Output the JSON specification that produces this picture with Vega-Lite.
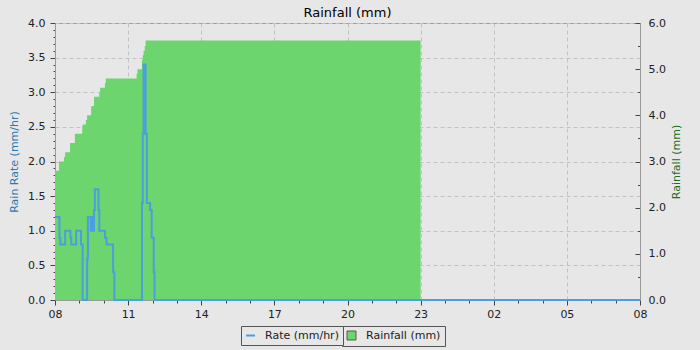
{
  "$schema": "https://vega.github.io/schema/vega-lite/v6.json",
  "autosize": {"type": "none"},
  "width": 585,
  "height": 277,
  "padding": {"left": 55, "top": 23, "right": 60, "bottom": 50},
  "background": "#e7e7e7",
  "title": {"text": "Rainfall (mm)", "fontSize": 13, "font": "DejaVu Sans", "fontWeight": "normal", "color": "#000000", "offset": -3},
  "config": {
    "view": {"stroke": "#999999", "fill": "#e7e7e7"},
    "axis": {"labelFont": "DejaVu Sans", "labelFontSize": 11, "labelColor": "#222222", "titleFont": "DejaVu Sans", "titleFontSize": 11, "titleFontWeight": "normal", "domainColor": "#999999", "tickColor": "#444444", "gridColor": "#c2c2c2", "gridDash": [4, 3], "gridWidth": 1}
  },
  "datasets": {
    "rain": [
      {"time": "2024-05-01T08:00:00", "mm": 2.8},
      {"time": "2024-05-01T08:10:00", "mm": 3.0},
      {"time": "2024-05-01T08:22:00", "mm": 3.1},
      {"time": "2024-05-01T08:25:00", "mm": 3.2},
      {"time": "2024-05-01T08:37:00", "mm": 3.4},
      {"time": "2024-05-01T08:49:00", "mm": 3.6},
      {"time": "2024-05-01T09:07:00", "mm": 3.78},
      {"time": "2024-05-01T09:09:00", "mm": 3.8},
      {"time": "2024-05-01T09:16:00", "mm": 3.9},
      {"time": "2024-05-01T09:19:00", "mm": 4.0},
      {"time": "2024-05-01T09:29:00", "mm": 4.19},
      {"time": "2024-05-01T09:31:00", "mm": 4.2},
      {"time": "2024-05-01T09:36:00", "mm": 4.4},
      {"time": "2024-05-01T09:49:00", "mm": 4.5},
      {"time": "2024-05-01T09:51:00", "mm": 4.6},
      {"time": "2024-05-01T10:03:00", "mm": 4.7},
      {"time": "2024-05-01T10:05:00", "mm": 4.8},
      {"time": "2024-05-01T11:21:00", "mm": 4.9},
      {"time": "2024-05-01T11:23:00", "mm": 5.0},
      {"time": "2024-05-01T11:34:00", "mm": 5.2},
      {"time": "2024-05-01T11:36:00", "mm": 5.3},
      {"time": "2024-05-01T11:38:00", "mm": 5.4},
      {"time": "2024-05-01T11:41:00", "mm": 5.5},
      {"time": "2024-05-01T11:43:00", "mm": 5.62},
      {"time": "2024-05-01T23:00:00", "mm": 5.62}
    ],
    "rate": [
      {"time": "2024-05-01T08:00:00", "rate": 1.2},
      {"time": "2024-05-01T08:11:00", "rate": 0.9},
      {"time": "2024-05-01T08:13:00", "rate": 0.8},
      {"time": "2024-05-01T08:25:00", "rate": 1.0},
      {"time": "2024-05-01T08:38:00", "rate": 0.9},
      {"time": "2024-05-01T08:40:00", "rate": 0.8},
      {"time": "2024-05-01T08:52:00", "rate": 1.0},
      {"time": "2024-05-01T09:04:00", "rate": 0.8},
      {"time": "2024-05-01T09:08:00", "rate": 0.0},
      {"time": "2024-05-01T09:19:00", "rate": 0.6},
      {"time": "2024-05-01T09:21:00", "rate": 1.2},
      {"time": "2024-05-01T09:28:00", "rate": 1.0},
      {"time": "2024-05-01T09:29:00", "rate": 1.2},
      {"time": "2024-05-01T09:30:00", "rate": 1.0},
      {"time": "2024-05-01T09:31:00", "rate": 1.2},
      {"time": "2024-05-01T09:33:00", "rate": 1.0},
      {"time": "2024-05-01T09:36:00", "rate": 1.3},
      {"time": "2024-05-01T09:38:00", "rate": 1.6},
      {"time": "2024-05-01T09:47:00", "rate": 1.3},
      {"time": "2024-05-01T09:49:00", "rate": 1.0},
      {"time": "2024-05-01T10:03:00", "rate": 0.9},
      {"time": "2024-05-01T10:07:00", "rate": 0.8},
      {"time": "2024-05-01T10:23:00", "rate": 0.4},
      {"time": "2024-05-01T10:26:00", "rate": 0.0},
      {"time": "2024-05-01T11:34:00", "rate": 1.4},
      {"time": "2024-05-01T11:36:00", "rate": 2.4},
      {"time": "2024-05-01T11:38:00", "rate": 3.4},
      {"time": "2024-05-01T11:43:00", "rate": 2.4},
      {"time": "2024-05-01T11:46:00", "rate": 1.4},
      {"time": "2024-05-01T11:54:00", "rate": 1.3},
      {"time": "2024-05-01T11:58:00", "rate": 0.9},
      {"time": "2024-05-01T12:03:00", "rate": 0.4},
      {"time": "2024-05-01T12:05:00", "rate": 0.0},
      {"time": "2024-05-02T08:00:00", "rate": 0.0}
    ]
  },
  "encoding": {
    "x": {
      "field": "time", "type": "temporal", "title": null,
      "scale": {"domain": [{"year": 2024, "month": 5, "date": 1, "hours": 8}, {"year": 2024, "month": 5, "date": 2, "hours": 8}]},
      "axis": {
        "values": [
          {"year": 2024, "month": 5, "date": 1, "hours": 8},
          {"year": 2024, "month": 5, "date": 1, "hours": 9},
          {"year": 2024, "month": 5, "date": 1, "hours": 10},
          {"year": 2024, "month": 5, "date": 1, "hours": 11},
          {"year": 2024, "month": 5, "date": 1, "hours": 12},
          {"year": 2024, "month": 5, "date": 1, "hours": 13},
          {"year": 2024, "month": 5, "date": 1, "hours": 14},
          {"year": 2024, "month": 5, "date": 1, "hours": 15},
          {"year": 2024, "month": 5, "date": 1, "hours": 16},
          {"year": 2024, "month": 5, "date": 1, "hours": 17},
          {"year": 2024, "month": 5, "date": 1, "hours": 18},
          {"year": 2024, "month": 5, "date": 1, "hours": 19},
          {"year": 2024, "month": 5, "date": 1, "hours": 20},
          {"year": 2024, "month": 5, "date": 1, "hours": 21},
          {"year": 2024, "month": 5, "date": 1, "hours": 22},
          {"year": 2024, "month": 5, "date": 1, "hours": 23},
          {"year": 2024, "month": 5, "date": 2, "hours": 0},
          {"year": 2024, "month": 5, "date": 2, "hours": 1},
          {"year": 2024, "month": 5, "date": 2, "hours": 2},
          {"year": 2024, "month": 5, "date": 2, "hours": 3},
          {"year": 2024, "month": 5, "date": 2, "hours": 4},
          {"year": 2024, "month": 5, "date": 2, "hours": 5},
          {"year": 2024, "month": 5, "date": 2, "hours": 6},
          {"year": 2024, "month": 5, "date": 2, "hours": 7},
          {"year": 2024, "month": 5, "date": 2, "hours": 8}
        ],
        "format": "%H",
        "labelOpacity": {"condition": {"test": "hours(datum.value) % 3 == 2", "value": 1}, "value": 0},
        "tickSize": {"condition": {"test": "hours(datum.value) % 3 == 2", "value": 5}, "value": 3},
        "gridOpacity": {"condition": {"test": "hours(datum.value) % 3 == 2", "value": 1}, "value": 0},
        "labelOverlap": false, "labelFlush": false, "labelPadding": 3,
        "grid": true
      }
    }
  },
  "layer": [
    {
      "data": {"name": "rain"},
      "mark": {"type": "area", "interpolate": "step-after", "opacity": 1},
      "encoding": {
        "y": {
          "field": "mm", "type": "quantitative", "title": "Rainfall (mm)",
          "scale": {"domain": [0, 6], "nice": false},
          "axis": {
            "orient": "right", "grid": false, "titleColor": "#1f6b1f", "titleAngle": 270, "titlePadding": 14,
            "values": [0, 0.5, 1, 1.5, 2, 2.5, 3, 3.5, 4, 4.5, 5, 5.5, 6], "format": ".1f",
            "labelOpacity": {"condition": {"test": "datum.value % 1 == 0", "value": 1}, "value": 0},
            "tickSize": {"condition": {"test": "datum.value % 1 == 0", "value": -5}, "value": -2.5},
            "labelPadding": 13, "labelOverlap": false, "labelFlush": false
          }
        },
        "color": {"datum": "Rainfall (mm)", "type": "nominal",
          "scale": {"domain": ["Rainfall (mm)"], "range": ["#6dd56d"]},
          "legend": {
            "orient": "none", "legendX": 287, "legendY": 303, "direction": "horizontal", "title": null,
            "strokeColor": "#555555", "fillColor": "#e7e7e7", "padding": 4,
            "labelFont": "DejaVu Sans", "labelFontSize": 11, "labelColor": "#222222",
            "symbolType": "square", "symbolSize": 80, "symbolStrokeColor": "#555555", "symbolStrokeWidth": 1, "labelOffset": 9
          }
        }
      }
    },
    {
      "data": {"name": "rate"},
      "mark": {"type": "line", "interpolate": "step-after", "strokeWidth": 2},
      "encoding": {
        "y": {
          "field": "rate", "type": "quantitative", "title": "Rain Rate (mm/hr)",
          "scale": {"domain": [0, 4], "nice": false},
          "axis": {
            "orient": "left", "grid": true, "titleColor": "#2d78b0", "titlePadding": 8,
            "values": [0, 0.1, 0.2, 0.3, 0.4, 0.5, 0.6, 0.7, 0.8, 0.9, 1, 1.1, 1.2, 1.3, 1.4, 1.5, 1.6, 1.7, 1.8, 1.9, 2, 2.1, 2.2, 2.3, 2.4, 2.5, 2.6, 2.7, 2.8, 2.9, 3, 3.1, 3.2, 3.3, 3.4, 3.5, 3.6, 3.7, 3.8, 3.9, 4],
            "format": ".1f",
            "labelOpacity": {"condition": {"test": "abs(datum.value * 2 - round(datum.value * 2)) < 0.01", "value": 1}, "value": 0},
            "tickSize": {"condition": {"test": "abs(datum.value * 2 - round(datum.value * 2)) < 0.01", "value": 5}, "value": 2},
            "gridOpacity": {"condition": {"test": "abs(datum.value * 2 - round(datum.value * 2)) < 0.01", "value": 1}, "value": 0},
            "labelPadding": 5, "labelOverlap": false, "labelFlush": false
          }
        },
        "color": {"datum": "Rate (mm/hr)", "type": "nominal",
          "scale": {"domain": ["Rate (mm/hr)"], "range": ["#4a9fdf"]},
          "legend": {
            "orient": "none", "legendX": 186, "legendY": 303, "direction": "horizontal", "title": null,
            "strokeColor": "#555555", "fillColor": "#e7e7e7", "padding": 4,
            "labelFont": "DejaVu Sans", "labelFontSize": 11, "labelColor": "#222222",
            "symbolType": "stroke", "symbolSize": 80, "symbolStrokeWidth": 2, "labelOffset": 9
          }
        }
      }
    }
  ],
  "resolve": {"scale": {"y": "independent", "color": "independent"}}
}
